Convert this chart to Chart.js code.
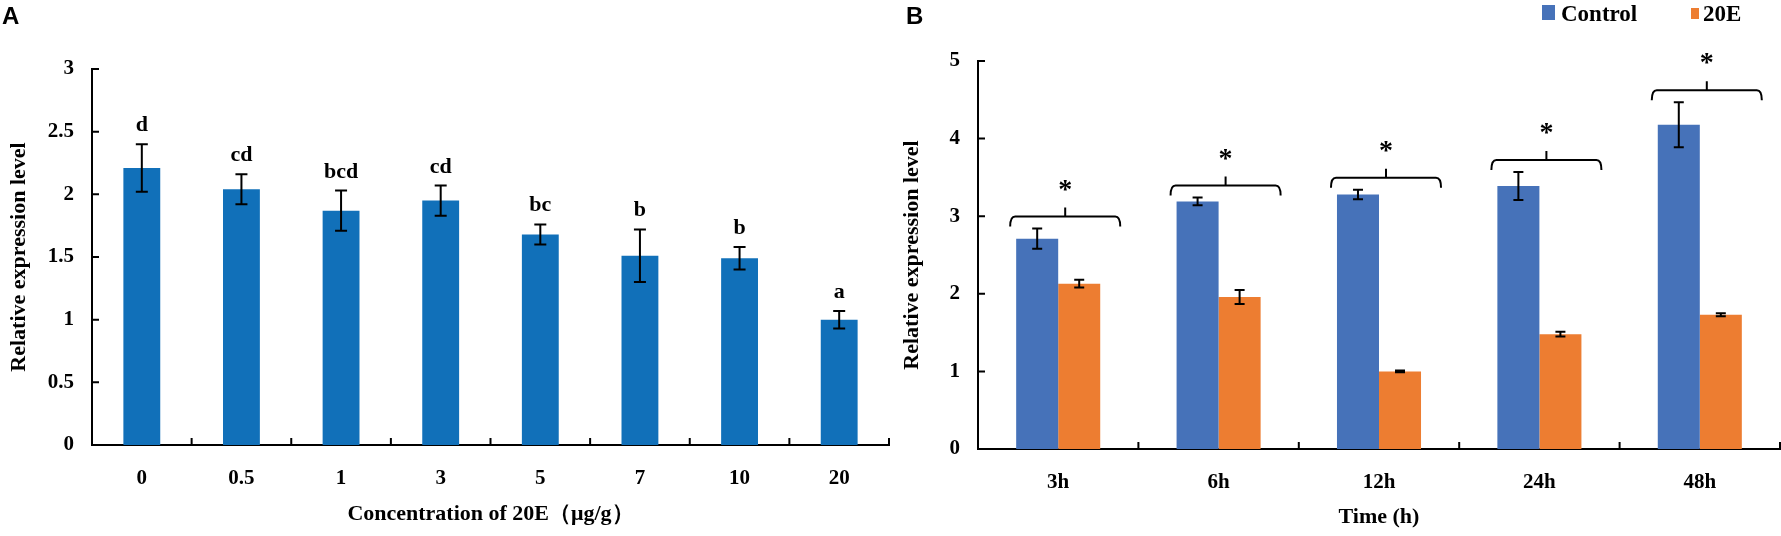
<!DOCTYPE html>
<html lang="en">
<head>
<meta charset="UTF-8">
<title>Relative expression level after 20E treatment</title>
<script src="https://cdn.jsdelivr.net/npm/chart.js"></script>
<style>
  body { margin: 0; background: #fff; }
  #wrap { position: relative; width: 1781px; height: 536px; }
  canvas { position: absolute; top: 0; }
  #chartA { left: 0; }
  #chartB { left: 890px; }
</style>
</head>
<body>
<div id="wrap">
  <canvas id="chartA" width="890" height="536"></canvas>
  <canvas id="chartB" width="891" height="536"></canvas>
</div>
<script>
// panel A: dose response
const concLabels = ['0', '0.5', '1', '3', '5', '7', '10', '20'];
const concMeans = [2.21, 2.04, 1.87, 1.95, 1.68, 1.51, 1.49, 1.00];
const concErrors = [0.19, 0.12, 0.16, 0.12, 0.08, 0.21, 0.09, 0.07];
const concLetters = ['d', 'cd', 'bcd', 'cd', 'bc', 'b', 'b', 'a'];

// panel B: time course
const timeLabels = ['3h', '6h', '12h', '24h', '48h'];
const controlMeans = [2.71, 3.19, 3.28, 3.39, 4.18];
const controlErrors = [0.13, 0.05, 0.06, 0.18, 0.29];
const treatedMeans = [2.13, 1.96, 1.00, 1.48, 1.73];
const treatedErrors = [0.05, 0.09, 0.01, 0.03, 0.02];
const timeSignif = ['*', '*', '*', '*', '*'];

const SERIF = "'Liberation Serif', 'Times New Roman', serif";
const SANS = "'Liberation Sans', Arial, sans-serif";

// error bars (and letters when the dataset has them)
const errorBars = {
  id: 'errorBars',
  afterDatasetsDraw(chart, args, opts) {
    const ctx = chart.ctx;
    const y = chart.scales.y;
    ctx.save();
    ctx.strokeStyle = '#000';
    ctx.fillStyle = '#000';
    ctx.lineWidth = 2;
    ctx.font = 'bold 22px ' + SERIF;
    ctx.textAlign = 'center';
    ctx.textBaseline = 'alphabetic';
    chart.data.datasets.forEach((ds, di) => {
      const meta = chart.getDatasetMeta(di);
      meta.data.forEach((bar, i) => {
        const v = ds.data[i], e = ds.errors[i];
        const top = y.getPixelForValue(v + e);
        const bot = y.getPixelForValue(v - e);
        ctx.beginPath();
        ctx.moveTo(bar.x, top); ctx.lineTo(bar.x, bot);
        ctx.moveTo(bar.x - opts.cap, top); ctx.lineTo(bar.x + opts.cap, top);
        ctx.moveTo(bar.x - opts.cap, bot); ctx.lineTo(bar.x + opts.cap, bot);
        ctx.stroke();
        if (ds.letters) ctx.fillText(ds.letters[i], bar.x, top - 13);
      });
    });
    ctx.restore();
  }
};

// ticks pointing into the plot, plus the panel letter
const axisDecor = {
  id: 'axisDecor',
  afterDraw(chart, args, opts) {
    const {ctx, chartArea, scales: {x, y}} = chart;
    ctx.save();
    ctx.strokeStyle = '#000';
    ctx.lineWidth = 2;
    ctx.beginPath();
    y.ticks.forEach((t, i) => {
      const py = y.getPixelForTick(i);
      ctx.moveTo(chartArea.left, py);
      ctx.lineTo(chartArea.left + 7, py);
    });
    for (let i = 0; i <= x.ticks.length; i++) {
      const px = x.getPixelForValue(i - 0.5);
      ctx.moveTo(px, chartArea.bottom);
      ctx.lineTo(px, chartArea.bottom - 7);
    }
    ctx.stroke();
    ctx.fillStyle = '#000';
    ctx.font = 'bold 24px ' + SANS;
    ctx.textAlign = 'left';
    ctx.fillText(opts.tag, opts.tagX, 24);
    ctx.restore();
  }
};

// significance brackets and legend for panel B
const brackets = {
  id: 'brackets',
  afterDatasetsDraw(chart) {
    const ctx = chart.ctx;
    const y = chart.scales.y;
    const ds = chart.data.datasets;
    const m0 = chart.getDatasetMeta(0), m1 = chart.getDatasetMeta(1);
    ctx.save();
    ctx.strokeStyle = '#000';
    ctx.fillStyle = '#000';
    ctx.lineWidth = 2;
    m0.data.forEach((bar, i) => {
      const other = m1.data[i];
      const hi = Math.max(ds[0].data[i] + ds[0].errors[i], ds[1].data[i] + ds[1].errors[i]);
      const by = y.getPixelForValue(hi) - 12;
      const left = bar.x - bar.width / 2 - 6;
      const right = other.x + other.width / 2 + 20;
      const mid = (left + right) / 2;
      ctx.beginPath();
      ctx.moveTo(left, by + 10);
      ctx.quadraticCurveTo(left, by, left + 5, by);
      ctx.lineTo(right - 5, by);
      ctx.quadraticCurveTo(right, by, right, by + 10);
      ctx.moveTo(mid, by);
      ctx.lineTo(mid, by - 9);
      ctx.stroke();
      ctx.font = 'bold 28px ' + SERIF;
      ctx.textAlign = 'center';
      ctx.fillText(timeSignif[i], mid, by - 19);
    });
    // legend
    ctx.font = 'bold 23px ' + SERIF;
    ctx.textAlign = 'left';
    ctx.fillStyle = ds[0].backgroundColor;
    ctx.fillRect(652, 5, 13, 15);
    ctx.fillStyle = '#000';
    ctx.fillText(ds[0].label, 671, 21);
    ctx.fillStyle = ds[1].backgroundColor;
    ctx.fillRect(801, 8, 8, 11);
    ctx.fillStyle = '#000';
    ctx.fillText(ds[1].label, 813, 21);
    ctx.restore();
  }
};

function axes(yMax, yStep, yWidth, xHeight, yTitle, xTitle, yTitlePad, xTitlePad) {
  return {
    x: {
      grid: { display: false, drawTicks: false },
      border: { color: '#000', width: 2 },
      ticks: { color: '#000', padding: 21, font: { family: SERIF, size: 21, weight: 'bold' } },
      title: { display: true, text: xTitle, color: '#000', padding: { top: 0, bottom: xTitlePad },
               font: { family: SERIF, size: 22, weight: 'bold' } },
      afterFit(s) { s.height = xHeight; }
    },
    y: {
      min: 0, max: yMax,
      grid: { display: false, drawTicks: false },
      border: { color: '#000', width: 2 },
      ticks: { stepSize: yStep, color: '#000', padding: 18, font: { family: SERIF, size: 21, weight: 'bold' },
               callback: v => String(v) },
      title: { display: true, text: yTitle, color: '#000', padding: { top: yTitlePad, bottom: 0 },
               font: { family: SERIF, size: 22, weight: 'bold' } },
      afterFit(s) { s.width = yWidth; }
    }
  };
}

new Chart(document.getElementById('chartA'), {
  type: 'bar',
  data: {
    labels: concLabels,
    datasets: [{
      label: 'Relative expression',
      data: concMeans,
      errors: concErrors,
      letters: concLetters,
      backgroundColor: '#1170b9',
      borderWidth: 0,
      categoryPercentage: 0.37,
      barPercentage: 1
    }]
  },
  options: {
    responsive: false,
    animation: false,
    layout: { padding: { top: 69, right: 1, left: 0, bottom: 0 } },
    plugins: {
      legend: { display: false },
      tooltip: { enabled: false },
      errorBars: { cap: 6 },
      axisDecor: { tag: 'A', tagX: 2 }
    },
    scales: axes(3, 0.5, 92, 91, 'Relative expression level', 'Concentration of 20E（μg/g）', 6, 8)
  },
  plugins: [errorBars, axisDecor]
});

new Chart(document.getElementById('chartB'), {
  type: 'bar',
  data: {
    labels: timeLabels,
    datasets: [{
      label: 'Control',
      data: controlMeans,
      errors: controlErrors,
      backgroundColor: '#4672b9',
      borderWidth: 0,
      categoryPercentage: 0.524,
      barPercentage: 1
    }, {
      label: '20E',
      data: treatedMeans,
      errors: treatedErrors,
      backgroundColor: '#ed7d31',
      borderWidth: 0,
      categoryPercentage: 0.524,
      barPercentage: 1
    }]
  },
  options: {
    responsive: false,
    animation: false,
    layout: { padding: { top: 61, right: 1, left: 0, bottom: 0 } },
    plugins: {
      legend: { display: false },
      tooltip: { enabled: false },
      errorBars: { cap: 5 },
      axisDecor: { tag: 'B', tagX: 16 }
    },
    scales: axes(5, 1, 88, 87, 'Relative expression level', 'Time (h)', 9, 5)
  },
  plugins: [errorBars, axisDecor, brackets]
});
</script>
</body>
</html>
